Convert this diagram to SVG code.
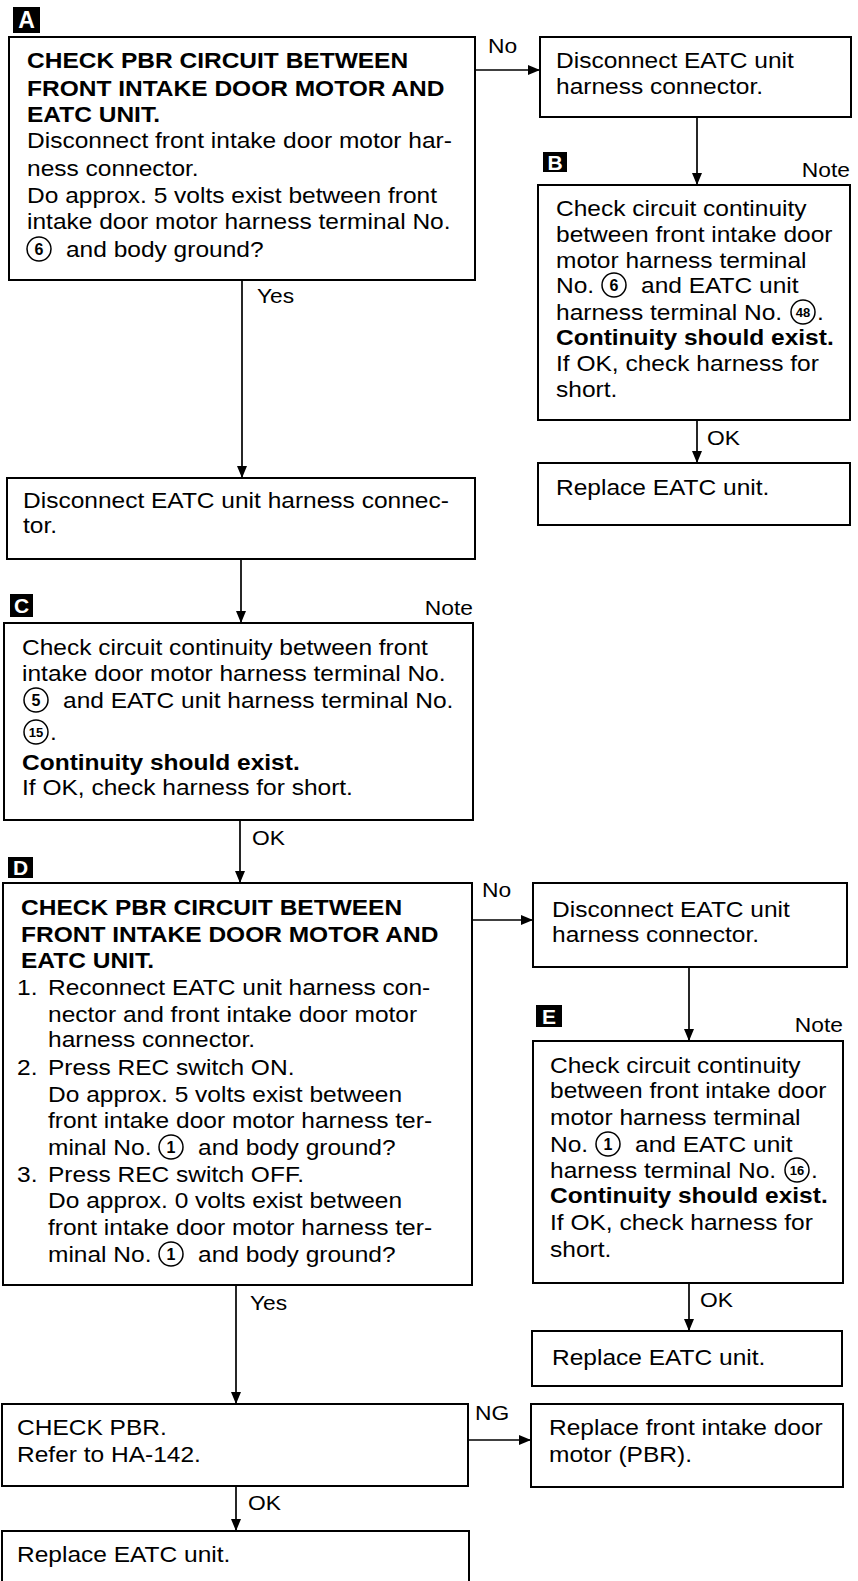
<svg xmlns="http://www.w3.org/2000/svg" width="858" height="1581" viewBox="0 0 858 1581">
<defs>
<style>
.box{fill:#fff;stroke:#000;stroke-width:2}
text{font-family:"Liberation Sans",Arial,Helvetica,sans-serif;fill:#000}
.t{font-size:21.5px}
.b{font-weight:bold}
.lbl{font-size:20px}
.end{text-anchor:end}
.tag rect{fill:#000}
.tag text{fill:#fff;font-weight:bold;font-size:21px;text-anchor:middle}
.cn circle{fill:none;stroke:#000;stroke-width:1.5}
.cn text{font-weight:bold;font-size:16px;text-anchor:middle}
.cn text.s{font-size:13px}
.conn line{stroke:#000;stroke-width:1.7;fill:none;marker-end:url(#ah)}
</style>
<marker id="ah" viewBox="0 0 12 10" refX="12" refY="5" markerWidth="12" markerHeight="10" markerUnits="userSpaceOnUse" orient="auto">
<path d="M0,0 L12,5 L0,10 z" fill="#000"/>
</marker>
</defs>
<rect width="858" height="1581" fill="#fff"/>

<g id="nodeA">
<g class="tag"><rect x="13" y="7" width="27" height="26"/><text x="26.5" y="28" style="font-size:23px">A</text></g>
<rect class="box" x="9" y="37" width="466" height="243"/>
<g transform="translate(27 0) scale(1.14 1)">
<text class="t b" y="68">CHECK PBR CIRCUIT BETWEEN</text>
<text class="t b" y="96">FRONT INTAKE DOOR MOTOR AND</text>
<text class="t b" y="122">EATC UNIT.</text>
<text class="t" y="148">Disconnect front intake door motor har-</text>
<text class="t" y="176">ness connector.</text>
<text class="t" y="203">Do approx. 5 volts exist between front</text>
<text class="t" y="229">intake door motor harness terminal No.</text>
<text class="t" x="34.2" y="257">and body ground?</text>
</g>
<g class="cn"><circle cx="39" cy="249" r="12"/><text x="39" y="255">6</text></g>
</g>

<g id="nodeDisc1">
<rect class="box" x="540" y="37" width="311" height="80"/>
<g transform="translate(556 0) scale(1.14 1)">
<text class="t" y="68">Disconnect EATC unit</text>
<text class="t" y="94">harness connector.</text>
</g>
</g>

<g id="nodeB">
<g class="tag"><rect x="543" y="152" width="24" height="20"/><text x="555" y="170">B</text></g>
<g transform="translate(850 0) scale(1.14 1)"><text class="lbl end" y="177">Note</text></g>
<rect class="box" x="538" y="185" width="312" height="235"/>
<g transform="translate(556 0) scale(1.14 1)">
<text class="t" y="216">Check circuit continuity</text>
<text class="t" y="242">between front intake door</text>
<text class="t" y="268">motor harness terminal</text>
<text class="t" y="293">No.</text>
<text class="t" x="74.6" y="293">and EATC unit</text>
<text class="t" y="320">harness terminal No.</text>
<text class="t" x="229" y="320">.</text>
<text class="t b" y="345">Continuity should exist.</text>
<text class="t" y="371">If OK, check harness for</text>
<text class="t" y="397">short.</text>
</g>
<g class="cn"><circle cx="614" cy="285" r="12"/><text x="614" y="291">6</text>
<circle cx="803" cy="312" r="12"/><text class="s" x="803" y="317">48</text></g>
</g>

<g id="nodeReplaceB">
<rect class="box" x="538" y="463" width="312" height="62"/>
<g transform="translate(556 0) scale(1.14 1)"><text class="t" y="495">Replace EATC unit.</text></g>
</g>

<g id="nodeDisc2">
<rect class="box" x="7" y="478" width="468" height="81"/>
<g transform="translate(23 0) scale(1.14 1)">
<text class="t" y="508">Disconnect EATC unit harness connec-</text>
<text class="t" y="533">tor.</text>
</g>
</g>

<g id="nodeC">
<g class="tag"><rect x="10" y="594" width="23" height="23"/><text x="21.5" y="613">C</text></g>
<g transform="translate(473 0) scale(1.14 1)"><text class="lbl end" y="615">Note</text></g>
<rect class="box" x="4" y="623" width="469" height="197"/>
<g transform="translate(22 0) scale(1.14 1)">
<text class="t" y="655">Check circuit continuity between front</text>
<text class="t" y="681">intake door motor harness terminal No.</text>
<text class="t" x="36" y="708">and EATC unit harness terminal No.</text>
<text class="t" x="24.6" y="740">.</text>
<text class="t b" y="770">Continuity should exist.</text>
<text class="t" y="795">If OK, check harness for short.</text>
</g>
<g class="cn"><circle cx="36" cy="700" r="12"/><text x="36" y="706">5</text>
<circle cx="36" cy="732" r="12"/><text class="s" x="36" y="737">15</text></g>
</g>

<g id="nodeD">
<g class="tag"><rect x="8" y="857" width="25" height="21"/><text x="20.5" y="875">D</text></g>
<rect class="box" x="3" y="883" width="469" height="402"/>
<g transform="translate(21 0) scale(1.14 1)">
<text class="t b" y="915">CHECK PBR CIRCUIT BETWEEN</text>
<text class="t b" y="942">FRONT INTAKE DOOR MOTOR AND</text>
<text class="t b" y="968">EATC UNIT.</text>
<text class="t" x="-3.5" y="995">1.</text>
<text class="t" x="23.7" y="995">Reconnect EATC unit harness con-</text>
<text class="t" x="23.7" y="1022">nector and front intake door motor</text>
<text class="t" x="23.7" y="1047">harness connector.</text>
<text class="t" x="-3.5" y="1075">2.</text>
<text class="t" x="23.7" y="1075">Press REC switch ON.</text>
<text class="t" x="23.7" y="1102">Do approx. 5 volts exist between</text>
<text class="t" x="23.7" y="1128">front intake door motor harness ter-</text>
<text class="t" x="23.7" y="1155">minal No.</text>
<text class="t" x="155.3" y="1155">and body ground?</text>
<text class="t" x="-3.5" y="1182">3.</text>
<text class="t" x="23.7" y="1182">Press REC switch OFF.</text>
<text class="t" x="23.7" y="1208">Do approx. 0 volts exist between</text>
<text class="t" x="23.7" y="1235">front intake door motor harness ter-</text>
<text class="t" x="23.7" y="1262">minal No.</text>
<text class="t" x="155.3" y="1262">and body ground?</text>
</g>
<g class="cn"><circle cx="171" cy="1147" r="12"/><text x="171" y="1153">1</text>
<circle cx="171" cy="1254" r="12"/><text x="171" y="1260">1</text></g>
</g>

<g id="nodeDisc3">
<rect class="box" x="533" y="883" width="314" height="84"/>
<g transform="translate(552 0) scale(1.14 1)">
<text class="t" y="917">Disconnect EATC unit</text>
<text class="t" y="942">harness connector.</text>
</g>
</g>

<g id="nodeE">
<g class="tag"><rect x="536" y="1005" width="26" height="22"/><text x="549" y="1024">E</text></g>
<g transform="translate(843 0) scale(1.14 1)"><text class="lbl end" y="1032">Note</text></g>
<rect class="box" x="533" y="1041" width="310" height="242"/>
<g transform="translate(550 0) scale(1.14 1)">
<text class="t" y="1073">Check circuit continuity</text>
<text class="t" y="1098">between front intake door</text>
<text class="t" y="1125">motor harness terminal</text>
<text class="t" y="1152">No.</text>
<text class="t" x="74.6" y="1152">and EATC unit</text>
<text class="t" y="1178">harness terminal No.</text>
<text class="t" x="229" y="1178">.</text>
<text class="t b" y="1203">Continuity should exist.</text>
<text class="t" y="1230">If OK, check harness for</text>
<text class="t" y="1257">short.</text>
</g>
<g class="cn"><circle cx="608" cy="1144" r="12"/><text x="608" y="1150">1</text>
<circle cx="797" cy="1170" r="12"/><text class="s" x="797" y="1175">16</text></g>
</g>

<g id="nodeReplaceE">
<rect class="box" x="532" y="1331" width="310" height="55"/>
<g transform="translate(552 0) scale(1.14 1)"><text class="t" y="1365">Replace EATC unit.</text></g>
</g>

<g id="nodePBR">
<rect class="box" x="2" y="1404" width="466" height="82"/>
<g transform="translate(17 0) scale(1.14 1)">
<text class="t" y="1435">CHECK PBR.</text>
<text class="t" y="1462">Refer to HA-142.</text>
</g>
</g>

<g id="nodeMotor">
<rect class="box" x="531" y="1404" width="312" height="83"/>
<g transform="translate(549 0) scale(1.14 1)">
<text class="t" y="1435">Replace front intake door</text>
<text class="t" y="1462">motor (PBR).</text>
</g>
</g>

<g id="nodeFinal">
<rect class="box" x="2" y="1531" width="467" height="70"/>
<g transform="translate(17 0) scale(1.14 1)"><text class="t" y="1562">Replace EATC unit.</text></g>
</g>

<g id="connectors" class="conn">
<line x1="475" y1="70" x2="540" y2="70"/>
<line x1="697" y1="117" x2="697" y2="185"/>
<line x1="697" y1="420" x2="697" y2="463"/>
<line x1="242" y1="280" x2="242" y2="478"/>
<line x1="241" y1="559" x2="241" y2="623"/>
<line x1="240" y1="820" x2="240" y2="883"/>
<line x1="472" y1="920" x2="533" y2="920"/>
<line x1="689" y1="967" x2="689" y2="1041"/>
<line x1="689" y1="1283" x2="689" y2="1331"/>
<line x1="236" y1="1285" x2="236" y2="1404"/>
<line x1="468" y1="1440" x2="531" y2="1440"/>
<line x1="236" y1="1486" x2="236" y2="1531"/>
<g transform="translate(488 0) scale(1.14 1)"><text class="lbl" y="53">No</text></g>
<g transform="translate(257 0) scale(1.14 1)"><text class="lbl" y="303">Yes</text></g>
<g transform="translate(707 0) scale(1.14 1)"><text class="lbl" y="445">OK</text></g>
<g transform="translate(252 0) scale(1.14 1)"><text class="lbl" y="845">OK</text></g>
<g transform="translate(482 0) scale(1.14 1)"><text class="lbl" y="897">No</text></g>
<g transform="translate(700 0) scale(1.14 1)"><text class="lbl" y="1307">OK</text></g>
<g transform="translate(250 0) scale(1.14 1)"><text class="lbl" y="1310">Yes</text></g>
<g transform="translate(475 0) scale(1.14 1)"><text class="lbl" y="1420">NG</text></g>
<g transform="translate(248 0) scale(1.14 1)"><text class="lbl" y="1510">OK</text></g>
</g>
</svg>
